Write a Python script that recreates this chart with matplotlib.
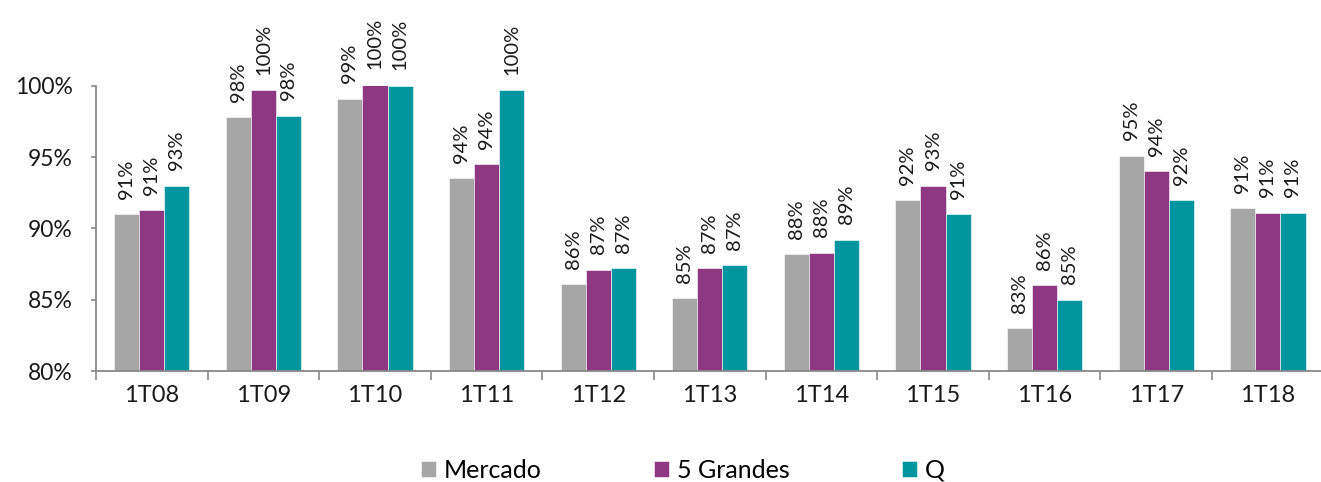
import matplotlib
matplotlib.use("Agg")
import matplotlib.pyplot as plt
import numpy as np
from matplotlib.patches import Patch

plt.rcParams['font.family'] = ['Lato', 'DejaVu Sans']

categories = ["1T08", "1T09", "1T10", "1T11", "1T12", "1T13", "1T14", "1T15", "1T16", "1T17", "1T18"]
series_names = ["Mercado", "5 Grandes", "Q"]
mercado = [91.0, 97.8, 99.1, 93.5, 86.1, 85.1, 88.2, 92.0, 83.0, 95.1, 91.4]
grandes = [91.3, 99.7, 100.1, 94.5, 87.1, 87.2, 88.3, 93.0, 86.0, 94.0, 91.1]
q_vals = [93.0, 97.9, 100.0, 99.7, 87.2, 87.4, 89.2, 91.0, 85.0, 92.0, 91.1]
y_ticks = [80, 85, 90, 95, 100]

colors = ["#A6A6A6", "#8E3882", "#00959F"]
spine_col = "#898989"
text_col = "#1a1a1a"

fig = plt.figure(figsize=(13.21, 4.82), dpi=100)
ax = fig.add_axes([96/1321, 1 - 371/482, 1 - 96/1321 + 0.002, (371 - 85.7)/482])

x = np.arange(len(categories))
w = 0.225
for k, (vals, c) in enumerate(zip([mercado, grandes, q_vals], colors)):
    xs = x + (k - 1) * w
    ax.bar(xs, vals, width=w, bottom=0, color=c, edgecolor='white', linewidth=0.4, zorder=2)
    for xi, v in zip(xs, vals):
        ax.annotate(f"{v:.0f}%", xy=(xi, v), xytext=(0, 11), textcoords='offset points',
                    rotation=90, ha='center', va='bottom', fontsize=14.5, color=text_col,
                    annotation_clip=False)

ax.set_ylim(80, 100)
ax.set_xlim(-0.5, len(categories) - 0.5)
ax.set_yticks(y_ticks)
ax.set_yticklabels([f"{t}%" for t in y_ticks], fontsize=16.5, color=text_col)
ax.set_xticks(np.arange(len(categories) + 1) - 0.5)
ax.set_xticklabels([])
ax.set_xticks(x, minor=True)
ax.set_xticklabels(categories, minor=True, fontsize=17, color=text_col)
ax.tick_params(axis='x', which='major', length=6.5, width=1.2, color=spine_col, direction='out')
ax.tick_params(axis='x', which='minor', length=0, pad=10)
ax.tick_params(axis='y', length=3.6, width=1.2, color=spine_col, pad=13)
for s in ['top', 'right']:
    ax.spines[s].set_visible(False)
for s in ['left', 'bottom']:
    ax.spines[s].set_color(spine_col)
    ax.spines[s].set_linewidth(1.3)

handles = [Patch(facecolor=c, edgecolor='white', linewidth=0.4) for c in colors]
fig.legend(handles, series_names, loc='center', bbox_to_anchor=(0.517, 1 - 470/482), ncol=3,
           frameon=False, fontsize=18, handlelength=0.6, handleheight=0.6,
           handletextpad=0.3, columnspacing=4.5, borderaxespad=0, borderpad=0)

fig.savefig("out.png", dpi=100)
